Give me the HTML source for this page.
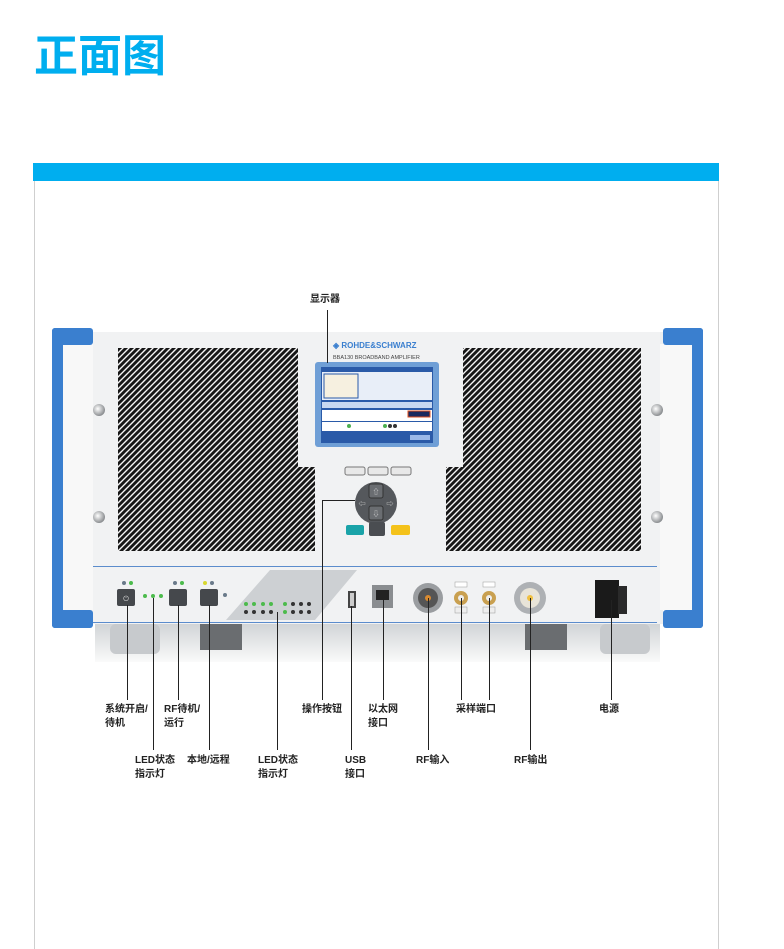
<!DOCTYPE html>
<html><head><meta charset="utf-8"><style>
html,body{margin:0;padding:0;background:#fff;width:784px;height:949px;overflow:hidden}
svg{display:block}
</style></head><body>
<svg width="784" height="949" viewBox="0 0 784 949" xmlns="http://www.w3.org/2000/svg" font-family="Liberation Sans, Noto Sans CJK SC, sans-serif">
<defs>
<pattern id="grille" width="6" height="6" patternUnits="userSpaceOnUse">
<rect width="6" height="6" fill="#f4f4f4"/>
<line x1="0" y1="6" x2="6" y2="0" stroke="#161616" stroke-width="2.9"/>
<line x1="-3" y1="3" x2="3" y2="-3" stroke="#161616" stroke-width="2.9"/>
<line x1="3" y1="9" x2="9" y2="3" stroke="#161616" stroke-width="2.9"/>
</pattern>
<linearGradient id="feet" x1="0" y1="0" x2="0" y2="1"><stop offset="0" stop-color="#cfd2d5"/><stop offset="1" stop-color="#fafafa"/></linearGradient>
<radialGradient id="nut" cx="0.4" cy="0.4" r="0.6"><stop offset="0" stop-color="#fff"/><stop offset="1" stop-color="#8a8d90"/></radialGradient>
</defs>
<text x="34" y="71" font-size="44" font-weight="bold" fill="#00aeef">正面图</text>
<rect x="33" y="163" width="686" height="18" fill="#00aeef"/>
<line x1="34.5" y1="181" x2="34.5" y2="949" stroke="#cfcfcf"/>
<line x1="718.5" y1="181" x2="718.5" y2="949" stroke="#cfcfcf"/>

<rect x="95" y="622" width="565" height="40" fill="url(#feet)"/>
<rect x="200" y="624" width="42" height="26" fill="#6a6d70"/>
<rect x="525" y="624" width="42" height="26" fill="#6a6d70"/>
<rect x="110" y="624" width="50" height="30" rx="6" fill="#c7cacd"/>
<rect x="600" y="624" width="50" height="30" rx="6" fill="#c7cacd"/>

<rect x="63" y="332" width="600" height="292" fill="#eceef0"/>
<rect x="92" y="332" width="568" height="292" fill="#f1f2f3"/>
<rect x="63" y="344" width="30" height="266" fill="#f8f8f8"/>
<rect x="52" y="328" width="11" height="300" rx="3" fill="#3a7fcf"/>
<rect x="52" y="328" width="41" height="17" rx="3" fill="#3a7fcf"/>
<rect x="52" y="610" width="41" height="18" rx="3" fill="#3a7fcf"/>
<rect x="660" y="344" width="32" height="266" fill="#f8f8f8"/>
<rect x="692" y="328" width="11" height="300" rx="3" fill="#3a7fcf"/>
<rect x="663" y="328" width="40" height="17" rx="3" fill="#3a7fcf"/>
<rect x="663" y="610" width="40" height="18" rx="3" fill="#3a7fcf"/>
<circle cx="99" cy="410" r="6" fill="url(#nut)"/><circle cx="99" cy="517" r="6" fill="url(#nut)"/>
<circle cx="657" cy="410" r="6" fill="url(#nut)"/><circle cx="657" cy="517" r="6" fill="url(#nut)"/>

<rect x="118" y="348" width="180" height="120" fill="url(#grille)"/>
<rect x="118" y="467" width="197" height="84" fill="url(#grille)"/>
<rect x="463" y="348" width="178" height="120" fill="url(#grille)"/>
<rect x="446" y="467" width="195" height="84" fill="url(#grille)"/>

<text x="333" y="348" font-size="8" font-weight="bold" fill="#3a7fcf">◈ ROHDE&amp;SCHWARZ</text>
<text x="333" y="359" font-size="5.5" fill="#444">BBA130   BROADBAND AMPLIFIER</text>
<rect x="315" y="362" width="124" height="85" rx="3" fill="#6f9fd6"/>
<rect x="321" y="367" width="112" height="76" fill="#2a5aa8"/>
<rect x="322" y="372" width="110" height="28" fill="#e8eef8"/>
<rect x="324" y="374" width="34" height="24" fill="#f6f0e0" stroke="#2a5aa8"/>
<rect x="322" y="402" width="110" height="6" fill="#c8d8f0"/>
<rect x="322" y="410" width="110" height="11" fill="#fff"/>
<rect x="408" y="411" width="22" height="6" fill="#1a2a60" stroke="#e05020"/>
<rect x="322" y="422" width="110" height="9" fill="#fff"/>
<circle cx="349" cy="426" r="2" fill="#4caf50"/><circle cx="385" cy="426" r="2" fill="#4caf50"/><circle cx="390" cy="426" r="2" fill="#333"/><circle cx="395" cy="426" r="2" fill="#333"/>
<rect x="410" y="435" width="20" height="5" fill="#9ab8e8"/>
<rect x="345" y="467" width="20" height="8" rx="2" fill="#e8e8e8" stroke="#777"/>
<rect x="368" y="467" width="20" height="8" rx="2" fill="#e8e8e8" stroke="#777"/>
<rect x="391" y="467" width="20" height="8" rx="2" fill="#e8e8e8" stroke="#777"/>
<circle cx="376" cy="503" r="21" fill="#55585c"/>
<rect x="369" y="484" width="14" height="14" rx="2" fill="#6a6d71" stroke="#333"/>
<rect x="369" y="506" width="14" height="14" rx="2" fill="#6a6d71" stroke="#333"/>
<g fill="#ddd" font-size="7" text-anchor="middle"><text x="376" y="494">⇧</text><text x="376" y="516">⇩</text><text x="362" y="506">⇦</text><text x="390" y="506">⇨</text></g>
<rect x="346" y="525" width="18" height="10" rx="2" fill="#1aa3a8"/>
<rect x="369" y="522" width="16" height="14" rx="2" fill="#4a4d51"/>
<rect x="391" y="525" width="19" height="10" rx="2" fill="#f4c21a"/>

<line x1="93" y1="566.5" x2="657" y2="566.5" stroke="#5b8ccc"/>
<line x1="93" y1="622.5" x2="657" y2="622.5" stroke="#5b8ccc"/>
<circle cx="124" cy="583" r="2" fill="#6a7a8a"/><circle cx="131" cy="583" r="2" fill="#4cbb4c"/>
<rect x="117" y="589" width="18" height="17" rx="2" fill="#45484c"/>
<text x="126" y="601" font-size="7" fill="#ddd" text-anchor="middle">⏻</text>
<circle cx="145" cy="596" r="2" fill="#4cbb4c"/><circle cx="153" cy="596" r="2" fill="#4cbb4c"/><circle cx="161" cy="596" r="2" fill="#4cbb4c"/>
<circle cx="175" cy="583" r="2" fill="#6a7a8a"/><circle cx="182" cy="583" r="2" fill="#4cbb4c"/>
<rect x="169" y="589" width="18" height="17" rx="2" fill="#45484c"/>
<circle cx="205" cy="583" r="2" fill="#d8d830"/><circle cx="212" cy="583" r="2" fill="#6a7a8a"/>
<rect x="200" y="589" width="18" height="17" rx="2" fill="#45484c"/>
<circle cx="225" cy="595" r="2" fill="#6a7a8a"/>
<polygon points="270,570 357,570 315,620 226,620" fill="#cdd0d3"/>
<g fill="#4cbb4c"><circle cx="246" cy="604" r="2"/><circle cx="254" cy="604" r="2"/><circle cx="263" cy="604" r="2"/><circle cx="271" cy="604" r="2"/><circle cx="285" cy="604" r="2"/><circle cx="285" cy="612" r="2"/></g>
<g fill="#333"><circle cx="293" cy="604" r="2"/><circle cx="301" cy="604" r="2"/><circle cx="309" cy="604" r="2"/><circle cx="246" cy="612" r="2"/><circle cx="254" cy="612" r="2"/><circle cx="263" cy="612" r="2"/><circle cx="271" cy="612" r="2"/><circle cx="293" cy="612" r="2"/><circle cx="301" cy="612" r="2"/><circle cx="309" cy="612" r="2"/></g>
<rect x="348" y="591" width="8" height="17" fill="#444"/><rect x="350" y="593" width="4" height="13" fill="#ccc"/>
<rect x="372" y="585" width="21" height="23" fill="#8a8d90"/><rect x="376" y="590" width="13" height="10" fill="#222"/>
<circle cx="428" cy="598" r="15" fill="#9a9da0"/><circle cx="428" cy="598" r="10" fill="#555"/><circle cx="428" cy="598" r="3" fill="#d88a30"/>
<rect x="455" y="582" width="12" height="5" fill="#fff" stroke="#999" stroke-width="0.5"/><rect x="483" y="582" width="12" height="5" fill="#fff" stroke="#999" stroke-width="0.5"/>
<circle cx="461" cy="598" r="7" fill="#c9a050"/><circle cx="461" cy="598" r="3" fill="#eee"/>
<circle cx="489" cy="598" r="7" fill="#c9a050"/><circle cx="489" cy="598" r="3" fill="#eee"/>
<rect x="455" y="607" width="12" height="6" fill="#eee" stroke="#999" stroke-width="0.5"/><rect x="483" y="607" width="12" height="6" fill="#eee" stroke="#999" stroke-width="0.5"/>
<circle cx="530" cy="598" r="16" fill="#aeb1b4"/><circle cx="530" cy="598" r="10" fill="#e8e4d8"/><circle cx="530" cy="598" r="3" fill="#f0c040"/>
<rect x="595" y="580" width="24" height="38" fill="#1a1a1a"/><rect x="618" y="586" width="9" height="28" fill="#2a2a2a"/>

<g stroke="#222" stroke-width="1" fill="none">
<line x1="327.5" y1="310" x2="327.5" y2="363"/>
<line x1="127.5" y1="605" x2="127.5" y2="700"/>
<line x1="153.5" y1="598" x2="153.5" y2="750"/>
<line x1="178.5" y1="605" x2="178.5" y2="700"/>
<line x1="209.5" y1="605" x2="209.5" y2="750"/>
<line x1="277.5" y1="612" x2="277.5" y2="750"/>
<polyline points="355,500.5 322.5,500.5 322.5,700"/>
<line x1="351.5" y1="606" x2="351.5" y2="750"/>
<line x1="383.5" y1="598" x2="383.5" y2="700"/>
<line x1="428.5" y1="598" x2="428.5" y2="750"/>
<line x1="461.5" y1="598" x2="461.5" y2="700"/>
<line x1="489.5" y1="598" x2="489.5" y2="700"/>
<line x1="530.5" y1="598" x2="530.5" y2="750"/>
<line x1="611.5" y1="600" x2="611.5" y2="700"/>
</g>
<g font-size="10" font-weight="bold" fill="#222">
<text x="310" y="302">显示器</text>
<text x="105" y="712">系统开启/</text><text x="105" y="726">待机</text>
<text x="164" y="712">RF待机/</text><text x="164" y="726">运行</text>
<text x="302" y="712">操作按钮</text>
<text x="368" y="712">以太网</text><text x="368" y="726">接口</text>
<text x="456" y="712">采样端口</text>
<text x="599" y="712">电源</text>
<text x="135" y="763">LED状态</text><text x="135" y="777">指示灯</text>
<text x="187" y="763">本地/远程</text>
<text x="258" y="763">LED状态</text><text x="258" y="777">指示灯</text>
<text x="345" y="763">USB</text><text x="345" y="777">接口</text>
<text x="416" y="763">RF输入</text>
<text x="514" y="763">RF输出</text>
</g>
</svg>
</body></html>
